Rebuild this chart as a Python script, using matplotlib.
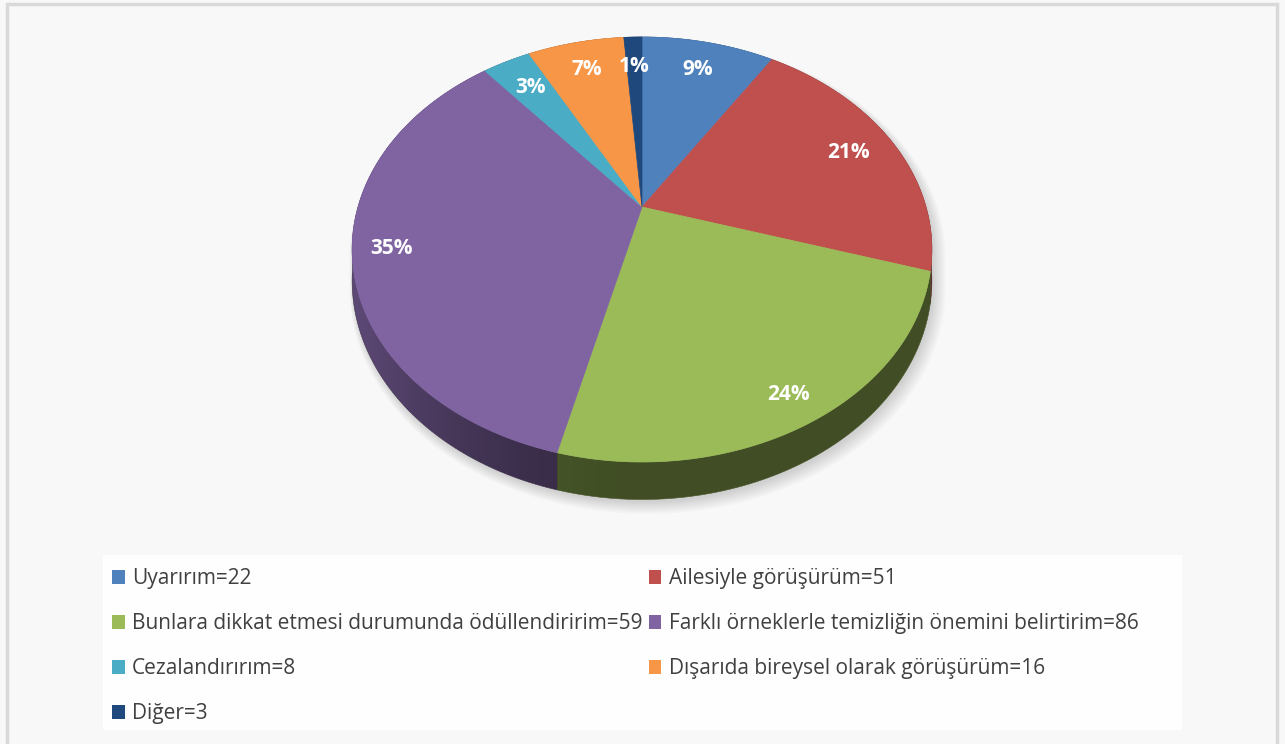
import numpy as np
import matplotlib
matplotlib.use("Agg")
import matplotlib.pyplot as plt
from matplotlib.patches import Polygon, Rectangle, Patch

# ---------------- data ----------------
categories = ["Uyarırım", "Ailesiyle görüşürüm",
              "Bunlara dikkat etmesi durumunda ödüllendiririm",
              "Farklı örneklerle temizliğin önemini belirtirim",
              "Cezalandırırım", "Dışarıda bireysel olarak görüşürüm", "Diğer"]
values = [22, 51, 59, 86, 8, 16, 3]
colors = ["#4F81BD", "#C0504D", "#9BBB59", "#8064A2", "#4BACC6", "#F79646", "#1F497D"]

# ---------------- style / layout ----------------
label_r = [0.81, 0.82, 0.89, 0.87, 0.80, 0.81, 0.80]
CX, CY, BX, A, K, T = 642, 207, 284, 204, 0.2, 30
FONT = "Open Sans"

fig = plt.figure(figsize=(12.85, 7.44), dpi=100, facecolor="#f8f8f8")
ax = fig.add_axes([0, 0, 1, 1])
ax.set_xlim(0, 1285)
ax.set_ylim(744, 0)
ax.axis("off")
ax.set_facecolor("#f8f8f8")

# outer chart border
ax.add_patch(Rectangle((7, 4), 1270, 760, facecolor="#f8f8f8", edgecolor="#d9d9d9", lw=2.5, zorder=0))


def proj(theta_deg, r=1.0, z=0.0):
    th = np.radians(theta_deg)
    u = r * np.sin(th)
    v = r * np.cos(th)
    s = 1.0 / (1.0 + K * v)
    return CX + BX * u * s, CY - A * v * s + z * T * s


def hull(pts):
    pts = sorted(map(tuple, pts))
    def cross(o, a, b):
        return (a[0]-o[0])*(b[1]-o[1]) - (a[1]-o[1])*(b[0]-o[0])
    lower, upper = [], []
    for p in pts:
        while len(lower) >= 2 and cross(lower[-2], lower[-1], p) <= 0:
            lower.pop()
        lower.append(p)
    for p in reversed(pts):
        while len(upper) >= 2 and cross(upper[-2], upper[-1], p) <= 0:
            upper.pop()
        upper.append(p)
    return np.array(lower[:-1] + upper[:-1])


total = float(sum(values))
bounds = np.concatenate([[0], np.cumsum(values)]) / total * 360.0

# soft shadow
full = np.linspace(0, 360, 361)
tx, ty = proj(full)
bx_, by_ = proj(full, z=1)
H = hull(np.column_stack([np.concatenate([tx, bx_]), np.concatenate([ty, by_])]))
hc = H.mean(axis=0)
for i in range(8):
    sc = 1.0 + 0.004 * i
    P = (H - hc) * sc + hc + np.array([2 + 0.5 * i, 3 + 0.6 * i])
    ax.add_patch(Polygon(P, closed=True, facecolor="black", edgecolor="none", alpha=0.018, zorder=1))

# sides (gradient filled, clipped to each slice's side polygon)
for i, c in enumerate(colors):
    t0, t1 = bounds[i], bounds[i + 1]
    ths = np.linspace(t0, t1, max(6, int((t1 - t0) * 2)))
    xt, yt = proj(ths)
    xb, yb = proj(ths[::-1], z=1)
    pts = np.column_stack([np.concatenate([xt, xb]), np.concatenate([yt, yb])])
    poly = Polygon(pts, closed=True, facecolor="none", edgecolor="none", zorder=2)
    ax.add_patch(poly)
    x0, x1 = pts[:, 0].min() - 2, pts[:, 0].max() + 2
    y0, y1 = pts[:, 1].min() - 2, pts[:, 1].max() + 2
    xs = np.linspace(x0, x1, 300)
    u = np.clip((xs - CX) / BX, -1, 1)
    f = 0.42 + 0.30 * np.clip(-u, 0, None) ** 2
    rgb = np.array(matplotlib.colors.to_rgb(c))
    img = np.clip(f[None, :, None] * rgb[None, None, :], 0, 1)
    img = np.repeat(img, 2, axis=0)
    im = ax.imshow(img, extent=(x0, x1, y1, y0), aspect="auto", zorder=2,
                   interpolation="bilinear")
    im.set_clip_path(poly)
    ax.add_patch(Polygon(pts, closed=True, facecolor="none",
                         edgecolor=tuple(rgb * 0.45), lw=0.4, zorder=2))

ax.set_xlim(0, 1285)
ax.set_ylim(744, 0)

# top faces
for i, c in enumerate(colors):
    t0, t1 = bounds[i], bounds[i + 1]
    ths = np.linspace(t0, t1, max(4, int((t1 - t0) * 2)))
    xs, ys = proj(ths)
    pts = np.column_stack([np.concatenate([[CX], xs]), np.concatenate([[CY], ys])])
    ax.add_patch(Polygon(pts, closed=True, facecolor=c, edgecolor=c, lw=0.5, zorder=3))

# percentage labels
for i, v in enumerate(values):
    mid = 0.5 * (bounds[i] + bounds[i + 1])
    x, y = proj(mid, r=label_r[i])
    ax.text(x, y, f"{round(100 * v / total)}%", color="white", fontsize=15,
            fontweight="bold", family=FONT, ha="center", va="center", zorder=5)

# legend background box
ax.add_patch(Rectangle((103, 555), 1079, 175, facecolor="#fefefe", edgecolor="none", zorder=1))

handles = [Patch(facecolor=c, edgecolor="none") for c in colors]
labels = [f"{n}={v}" for n, v in zip(categories, values)]
order = [0, 2, 4, 6, 1, 3, 5]
fig.legend([handles[i] for i in order], [labels[i] for i in order], ncol=2,
           loc="upper left", bbox_to_anchor=(103 / 1285, 1 - 559 / 744),
           frameon=False, prop={"family": FONT, "size": 15},
           labelcolor="#404040", handlelength=0.6, handleheight=0.6,
           handletextpad=0.35, columnspacing=0.3, labelspacing=1.15,
           borderpad=0.45, borderaxespad=0.0)

fig.savefig("out.png", dpi=100, facecolor=fig.get_facecolor())
